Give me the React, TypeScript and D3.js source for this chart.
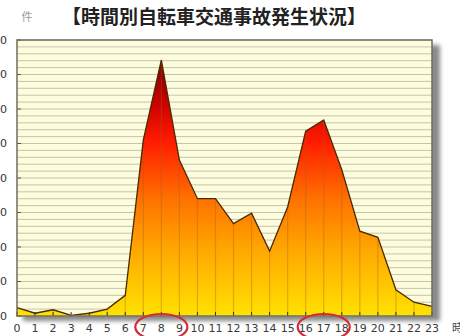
import React from "react";
import * as d3 from "d3";

const hours = d3.range(0, 24);
const counts = [12, 4, 9, 1, 4, 10, 30, 255, 371, 226, 170, 170, 134, 149, 94, 158, 268, 284, 212, 123, 114, 38, 20, 14];
const yTicks = [0, 50, 100, 150, 200, 250, 300, 350, 400];
const minorTicks = d3.range(0, 401, 10);
const title = "【時間別自転車交通事故発生状況】";
const yUnit = "件";
const xUnit = "時";
const circled = [[7, 9], [16, 18]];

const W = 460, H = 336;
const L = 17, R = 432, T = 40, B = 316;

export default function App() {
  const x = d3.scaleLinear().domain([0, 23]).range([L, R]);
  const y = d3.scaleLinear().domain([0, 400]).range([B, T]);
  const area = d3.area<number>().x((_, i) => x(i)).y0(y(0)).y1((d) => y(d));
  const line = d3.line<number>().x((_, i) => x(i)).y((d) => y(d));
  const areaPath = area(counts) || "";
  const jp = "'Noto Sans CJK JP', sans-serif";
  const lat = "'DejaVu Sans', 'Liberation Sans', sans-serif";
  return (
    <div style={{ position: "absolute", left: 0, top: 0 }}>
      <svg width={W} height={H} style={{ display: "block", background: "#fff" }}>
        <defs>
          <linearGradient id="fillg" gradientUnits="userSpaceOnUse" x1={0} y1={y(380)} x2={0} y2={y(0)}>
            <stop offset="0" stopColor="#6e0000" />
            <stop offset="0.18" stopColor="#c80000" />
            <stop offset="0.33" stopColor="#ff1a00" />
            <stop offset="0.55" stopColor="#ff7000" />
            <stop offset="0.75" stopColor="#ffa800" />
            <stop offset="1" stopColor="#ffe200" />
          </linearGradient>
          <filter id="sh" x="-10%" y="-10%" width="120%" height="120%">
            <feGaussianBlur stdDeviation="2" />
          </filter>
          <clipPath id="ac">
            <path d={areaPath} />
          </clipPath>
        </defs>
        <rect x={L + 6} y={T + 5} width={R - L + 2} height={B - T} fill="#8a8a8a" filter="url(#sh)" />
        <rect x={L} y={T} width={R - L} height={B - T} fill="#fdfcdc" />
        {minorTicks.map((v) => (
          <line key={v} x1={L} x2={R} y1={y(v)} y2={y(v)} stroke="#c4c4b0" strokeWidth={1} />
        ))}
        <path d={areaPath} fill="url(#fillg)" />
        <g clipPath="url(#ac)">
          {hours.map((h) => (
            <line key={h} x1={x(h)} x2={x(h)} y1={T} y2={B} stroke="#a06020" strokeOpacity={0.35} strokeWidth={1.2} />
          ))}
        </g>
        <path d={line(counts) || ""} fill="none" stroke="#4a2a00" strokeWidth={1.3} />
        {hours.map((h) => (
          <line key={h} x1={x(h)} x2={x(h)} y1={B} y2={B - 4} stroke="#333" strokeWidth={1} />
        ))}
        {yTicks.map((v) => (
          <line key={v} x1={L} x2={L + 4} y1={y(v)} y2={y(v)} stroke="#555" strokeWidth={1} />
        ))}
        <rect x={L} y={T} width={R - L} height={B - T} fill="none" stroke="#6f6f5c" strokeWidth={1.5} />
        {yTicks.map((v) => (
          <text key={v} x={7} y={y(v)} dy="0.35em" textAnchor="end" fontSize={11} fontFamily={lat} fill="#333">{v}</text>
        ))}
        {hours.map((h) => (
          <text key={h} x={x(h)} y={328} dy="0.35em" textAnchor="middle" fontSize={11} fontFamily={lat} fill="#3a3a3a">{h}</text>
        ))}
        <text x={452} y={328} dy="0.35em" textAnchor="start" fontSize={11} fontFamily={jp} fill="#444">{xUnit}</text>
        <text x={27} y={17} dy="0.35em" textAnchor="middle" fontSize={11} fontFamily={jp} fill="#999">{yUnit}</text>
        <text x={214} y={17} dy="0.35em" textAnchor="middle" fontSize={19} fontWeight="bold" fontFamily={jp} fill="#222">{title}</text>
        {circled.map(([a, b], i) => (
          <ellipse key={i} cx={(x(a) + x(b)) / 2} cy={327} rx={(x(b) - x(a)) / 2 + 8} ry={13} fill="none" stroke="#d42a3a" strokeWidth={2.2} />
        ))}
      </svg>
    </div>
  );
}
